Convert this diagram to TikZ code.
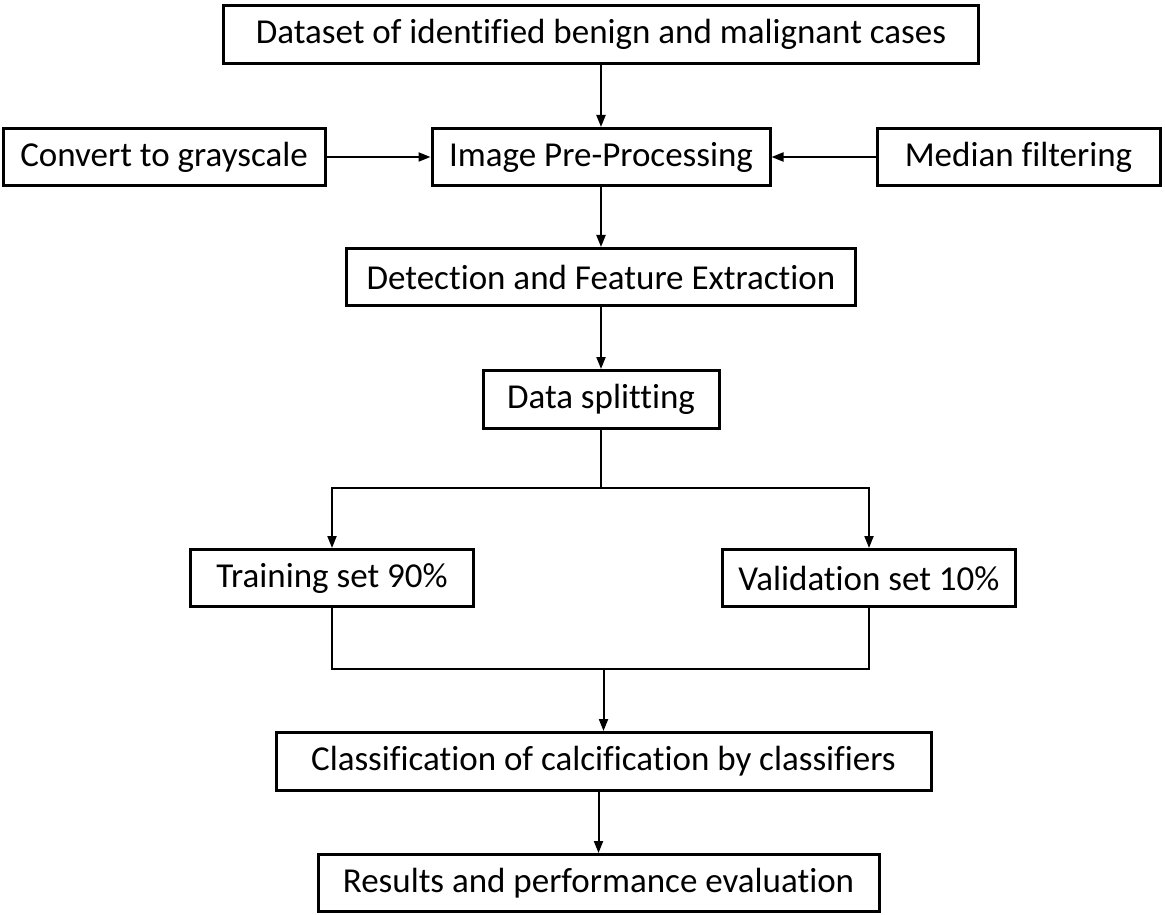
\documentclass[tikz,border=0pt]{standalone}
\usepackage{fontspec}
\setmainfont{Carlito}[Ligatures=NoCommon]
\usepackage{tikz}
\usetikzlibrary{positioning,arrows.meta,calc}

\begin{document}
\begin{tikzpicture}[
  stage/.style={draw, line width=1.5pt, minimum height=28.5pt, inner sep=0pt, align=center, font=\fontsize{17.5}{20}\selectfont},
  arrow/.style={-{Triangle[length=6pt, width=4.5pt]}, line width=1pt},
  link/.style={line width=1pt}
]
\useasboundingbox (0,0) rectangle (582.5pt,-457pt);

\node[stage, minimum width=377.5pt, minimum height=29pt] (data) at (300.5pt,-17.25pt) {Dataset of identified benign and malignant cases};
\node[stage, minimum width=169pt, below=31pt of data] (pre) {Image Pre-Processing};
\node[stage, minimum width=161pt, left=52pt of pre] (gray) {Convert to grayscale};
\node[stage, minimum width=141.5pt, right=52pt of pre] (median) {Median filtering};
\node[stage, minimum width=254.5pt, below=30pt of pre] (detect) {Detection and Feature Extraction};
\node[stage, minimum width=118pt, minimum height=29pt, below=31pt of detect] (split) {Data splitting};

\coordinate[below=29pt of split] (fork);
\node[stage, minimum width=141.5pt, below=59pt of split, xshift=-134.5pt] (train) {Training set 90\%};
\node[stage, minimum width=146.5pt, below=59pt of split, xshift=134pt] (valid) {Validation set 10\%};

\coordinate (join) at ($(train.south)!0.5!(valid.south)+(1.5pt,-30.5pt)$);
\node[stage, minimum width=327.5pt, minimum height=29pt, below=31pt of join] (class) {Classification of calcification by classifiers};
\node[stage, minimum width=280.5pt, below=30.5pt of class, xshift=-2.5pt] (result) {Results and performance evaluation};

% main column
\draw[arrow] (data) -- (pre);
\draw[arrow] (gray) -- (pre);
\draw[arrow] (median) -- (pre);
\draw[arrow] (pre) -- (detect);
\draw[arrow] (detect) -- (split);

% split into two sets
\draw[link] (split) -- (fork);
\draw[arrow] (fork) -| (train);
\draw[arrow] (fork) -| (valid);

% merge again
\draw[link] (train) |- (join) -| (valid);
\draw[arrow] (join) -- (class);
\draw[arrow] (class.south -| result) -- (result);

\end{tikzpicture}
\end{document}
